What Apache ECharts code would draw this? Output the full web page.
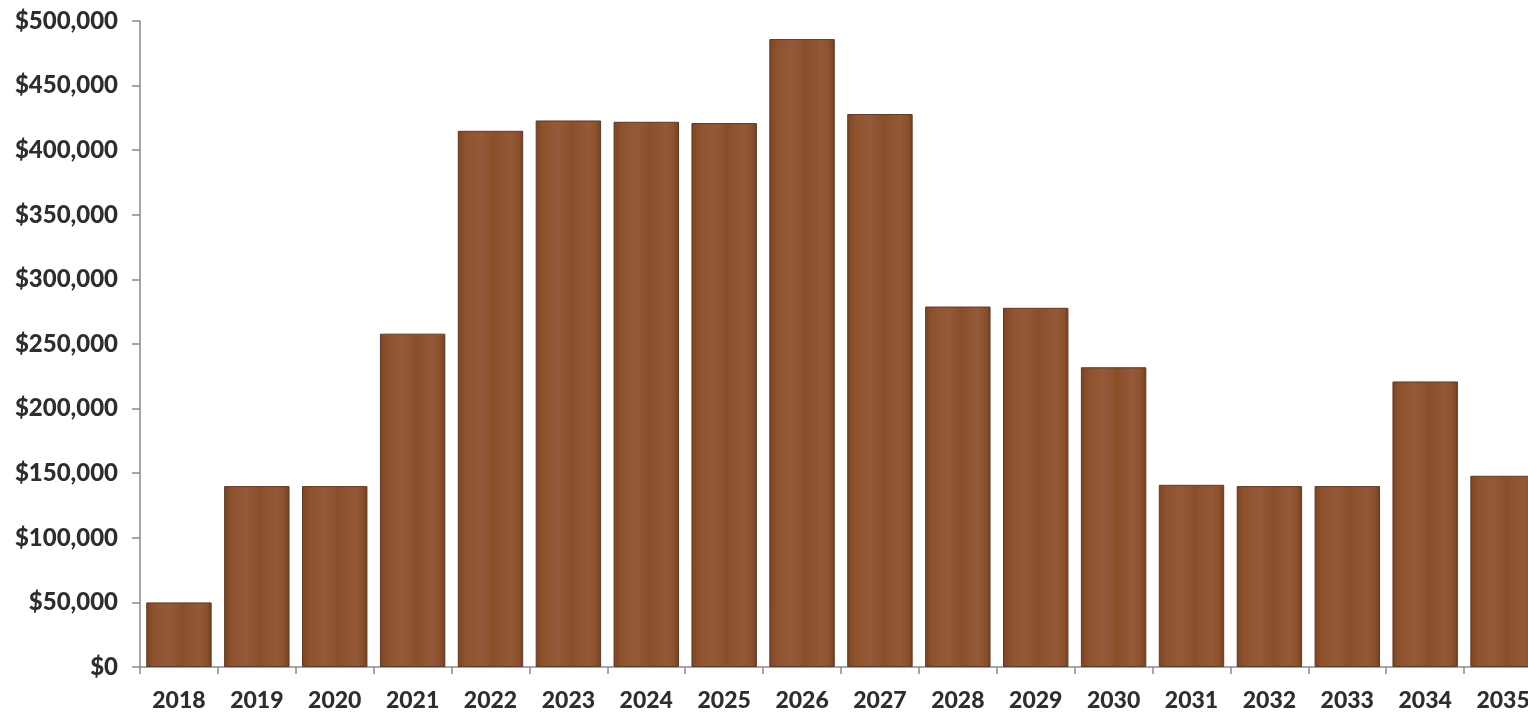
<!DOCTYPE html>
<html>
<head>
<meta charset="utf-8">
<title>Annual Amount by Year</title>
<script src="https://cdn.jsdelivr.net/npm/echarts@6/dist/echarts.min.js"></script>
<style>
  html, body { margin: 0; padding: 0; background: #ffffff; overflow: hidden; }
  #chart { width: 1528px; height: 721px; }
</style>
</head>
<body>
<div id="chart"></div>
<script>
// Years along the category axis
const years = ['2018', '2019', '2020', '2021', '2022', '2023', '2024', '2025', '2026',
               '2027', '2028', '2029', '2030', '2031', '2032', '2033', '2034', '2035'];

// Yearly amounts in dollars
const amounts = [50000, 140000, 140000, 258000, 415000, 423000, 422000, 421000, 486000,
                 428000, 279000, 278000, 232000, 141000, 140000, 140000, 221000, 148000];

// Value axis range and step
const yMin = 0;
const yMax = 500000;
const yStep = 50000;

const fmtDollar = v => '$' + v.toLocaleString('en-US');

const chart = echarts.init(document.getElementById('chart'), null, { renderer: 'canvas' });

chart.setOption({
  backgroundColor: '#ffffff',
  animation: false,
  // plot area runs a little past the right edge, so the last bar is cut off
  grid: {
    left: 140, top: 21, width: 1402, height: 646,
    containLabel: false,
    outerBoundsMode: 'none'
  },
  xAxis: {
    type: 'category',
    data: years,
    boundaryGap: true,
    axisLine: { show: true, lineStyle: { color: '#8a8a8a', width: 1.5 } },
    axisTick: { show: true, length: 7, alignWithLabel: false, lineStyle: { color: '#8a8a8a', width: 1.5 } },
    axisLabel: {
      margin: 22,
      color: '#2e2e2e',
      fontFamily: 'Lato',
      fontWeight: 900,
      fontSize: 23
    },
    splitLine: { show: false }
  },
  yAxis: {
    type: 'value',
    min: yMin,
    max: yMax,
    interval: yStep,
    axisLine: { show: true, lineStyle: { color: '#8a8a8a', width: 1.5 } },
    axisTick: { show: true, length: 8, lineStyle: { color: '#8a8a8a', width: 1.5 } },
    axisLabel: {
      margin: 22,
      color: '#2e2e2e',
      fontFamily: 'Lato',
      fontWeight: 900,
      fontSize: 24,
      formatter: fmtDollar
    },
    splitLine: { show: false }
  },
  series: [{
    type: 'bar',
    data: amounts,
    barCategoryGap: '16%',
    itemStyle: {
      color: {
        type: 'linear', x: 0, y: 0, x2: 1, y2: 0,
        colorStops: [
          { offset: 0, color: '#7d4424' },
          { offset: 0.12, color: '#8e532d' },
          { offset: 0.35, color: '#94593a' },
          { offset: 0.55, color: '#8a4f29' },
          { offset: 0.8, color: '#93593a' },
          { offset: 0.92, color: '#8c512b' },
          { offset: 1, color: '#74401f' }
        ]
      },
      borderColor: '#5e3a26',
      borderWidth: 1
    }
  }]
});
</script>
</body>
</html>
